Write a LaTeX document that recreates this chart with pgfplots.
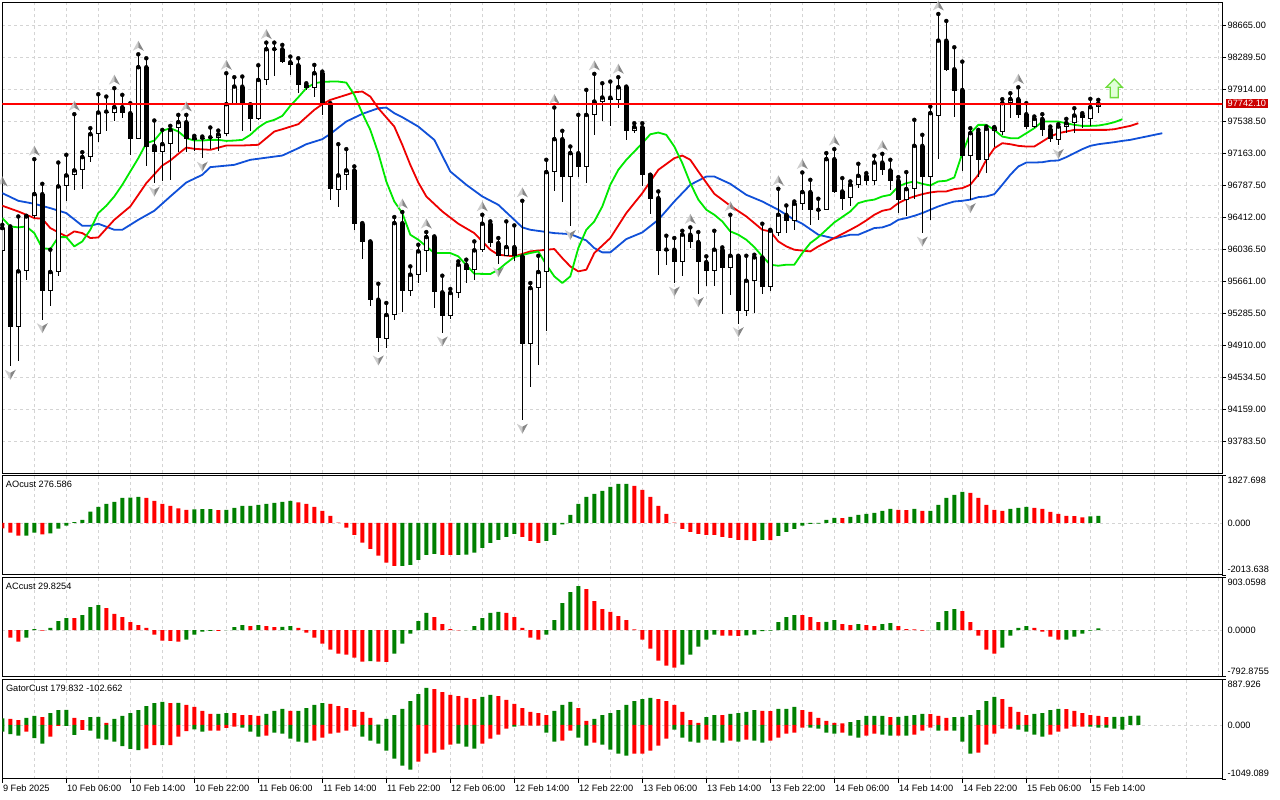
\documentclass[border=0pt]{standalone}
\usepackage{fontspec}
\setmainfont{Liberation Sans}
\usepackage{pgfplots}
\pgfplotsset{compat=1.18}
\usepackage{pgfplotstable}
\definecolor{mtgreen}{RGB}{0,128,0}
\definecolor{mtred}{RGB}{255,0,0}
\definecolor{jawc}{RGB}{16,80,216}
\definecolor{teethc}{RGB}{238,0,0}
\definecolor{lipsc}{RGB}{0,232,0}
\definecolor{gridc}{RGB}{212,212,212}
\definecolor{pricebox}{RGB}{204,0,0}
\definecolor{fracL}{RGB}{205,205,205}
\definecolor{fracD}{RGB}{135,135,135}
\definecolor{buyline}{RGB}{110,220,60}
\definecolor{buyfill}{RGB}{225,255,215}

\pgfdeclareplotmark{fracup}{%
  \pgfpathmoveto{\pgfpoint{0pt}{13.5pt}}\pgfpathlineto{\pgfpoint{-5.5pt}{3.5pt}}\pgfpathlineto{\pgfpoint{0pt}{6.5pt}}\pgfpathclose
  \pgfsetfillcolor{fracL}\pgfusepath{fill}%
  \pgfpathmoveto{\pgfpoint{0pt}{13.5pt}}\pgfpathlineto{\pgfpoint{5.5pt}{3.5pt}}\pgfpathlineto{\pgfpoint{0pt}{6.5pt}}\pgfpathclose
  \pgfsetfillcolor{fracD}\pgfusepath{fill}%
}
\pgfdeclareplotmark{fracdn}{%
  \pgfpathmoveto{\pgfpoint{0pt}{-13.5pt}}\pgfpathlineto{\pgfpoint{-5.5pt}{-3.5pt}}\pgfpathlineto{\pgfpoint{0pt}{-6.5pt}}\pgfpathclose
  \pgfsetfillcolor{fracL}\pgfusepath{fill}%
  \pgfpathmoveto{\pgfpoint{0pt}{-13.5pt}}\pgfpathlineto{\pgfpoint{5.5pt}{-3.5pt}}\pgfpathlineto{\pgfpoint{0pt}{-6.5pt}}\pgfpathclose
  \pgfsetfillcolor{fracD}\pgfusepath{fill}%
}
\pgfdeclareplotmark{buyarrow}{%
  \pgfpathmoveto{\pgfpoint{0pt}{9.3pt}}\pgfpathlineto{\pgfpoint{8pt}{1pt}}\pgfpathlineto{\pgfpoint{4pt}{1pt}}%
  \pgfpathlineto{\pgfpoint{4pt}{-9.3pt}}\pgfpathlineto{\pgfpoint{-4pt}{-9.3pt}}\pgfpathlineto{\pgfpoint{-4pt}{1pt}}%
  \pgfpathlineto{\pgfpoint{-8pt}{1pt}}\pgfpathclose
  \pgfsetfillcolor{buyfill}\pgfsetstrokecolor{buyline}\pgfsetlinewidth{1.3pt}\pgfusepath{fill,stroke}%
}

\pgfplotstableread{
x o h l c
0 96008 96320 95989 96282
2 95117 96418 94719 95774
3 95774 96426 95676 96418
4 96418 97090 96399 96680
6 95539 96028 95364 95766
7 95766 97051 95723 96770
8 96770 97141 96594 96899
9 96899 97618 96731 96958
10 96965 97172 96739 97114
11 97114 97454 97055 97383
12 97383 97852 97297 97637
14 97630 97923 97544 97700
17 97325 98321 97325 98169
20 97180 97434 96829 97266
21 97266 97481 96848 97434
22 97454 97610 97180 97524
27 97337 97426 97188 97380
28 97380 98098 97368 97735
29 97727 98052 97723 97942
32 97563 98192 97552 98020
33 98020 98458 97962 98380
39 97923 98196 97825 98098
42 96731 97266 96528 96899
43 96899 97208 96731 96958
48 94981 95403 94875 95262
49 95262 96411 95207 96340
51 95547 95832 95481 95735
52 95735 96086 95637 96008
53 96008 96235 95762 96176
56 95254 95567 95215 95520
57 95520 95891 95461 95852
59 95786 96125 95676 96020
60 96020 96438 96000 96333
63 95950 96360 95950 96059
66 94922 95637 94418 95578
67 95578 95957 94680 95766
68 95766 97083 95071 96938
69 96938 97696 96712 97325
71 96880 97239 96301 97161
73 96997 97903 96809 97610
74 97610 98091 97376 97766
75 97766 97981 97544 97813
77 97786 98052 97688 97934
79 97426 97512 97395 97466
85 95879 96250 95723 96204
89 95774 96250 95606 96028
91 95813 96438 95500 95957
93 95313 95957 95254 95664
94 95664 95969 95285 95938
96 95586 96262 95539 96250
97 96223 96743 96192 96438
99 96360 96594 96262 96567
100 96567 96934 96489 96704
103 96489 97161 96489 97090
106 96633 96829 96544 96790
107 96782 97036 96751 96895
109 96829 97130 96790 97051
113 96616 96938 96418 96739
114 96739 97552 96622 97247
116 96887 97708 96372 97630
117 97602 98794 97094 98481
121 97133 97454 96616 97395
123 97075 97473 96934 97446
124 97426 97466 97239 97458
125 97415 97794 97376 97747
126 97747 97864 97571 97794
129 97473 97591 97454 97563
132 97317 97501 97251 97473
133 97473 97563 97403 97512
134 97520 97688 97403 97602
136 97563 97798 97481 97700
137 97700 97786 97630 97742.1
}\bull

\pgfplotstableread{
x o h l c
1 96282 96301 94660 95117
5 96680 96801 95207 95539
13 97649 97825 97426 97637
15 97700 97845 97571 97630
16 97630 97747 97141 97325
18 98169 98274 97016 97231
19 97247 97544 96809 97180
23 97524 97610 97180 97325
24 97344 97364 97188 97317
25 97340 97356 97102 97328
26 97347 97462 97212 97335
30 97942 98060 97426 97727
31 97727 97735 97426 97563
34 98382 98458 98067 98370
35 98380 98431 98216 98227
36 98227 98294 98079 98196
37 98192 98274 97864 97962
38 97962 97981 97900 97923
40 98098 98118 97610 97727
41 97727 97747 96616 96739
44 96958 97005 96262 96329
45 96329 96340 95918 96118
46 96118 96125 95371 95442
47 95442 95629 94828 94992
50 96340 96470 95297 95547
54 96176 96184 95344 95528
55 95528 95723 95051 95254
58 95852 95911 95637 95786
61 96333 96360 96059 96106
62 96106 96165 95864 95950
64 96059 96313 95891 95950
65 95950 96602 94027 94922
70 97325 97423 96587 96880
72 97161 97610 96880 96997
76 97813 98001 97481 97786
78 97934 97942 97317 97426
80 97466 97512 96770 96899
81 96907 96907 96450 96626
82 96633 96712 95735 96008
83 96030 96192 95852 96018
84 96028 96165 95637 95879
86 96204 96290 96047 96114
87 96118 96235 95512 95879
88 95883 95950 95606 95774
90 96028 96055 95278 95813
92 95950 95957 95160 95313
95 95938 96333 95512 95586
98 96438 96547 96223 96360
101 96704 96848 96321 96489
102 96497 96626 96379 96485
104 97090 97208 96692 96704
105 96712 96868 96497 96626
108 96895 96926 96790 96829
110 97051 97153 96907 96958
111 96958 97083 96731 96840
112 96840 96880 96458 96616
115 97247 97376 96223 96887
118 98481 98712 98130 98138
119 98145 98403 97583 97895
120 97903 98235 96946 97133
122 97407 97434 96887 97075
127 97794 97934 97571 97610
128 97618 97747 97446 97473
130 97563 97618 97364 97434
131 97442 97473 97297 97325
135 97610 97630 97454 97571
}\bear

\pgfplotsset{
  mtaxis/.style={
    scale only axis, width=1220pt, xmin=0, xmax=152.5,
    axis line style={black, line width=1pt},
    grid=major,
    major grid style={gridc, dash pattern=on 3pt off 3pt, line width=0.8pt},
    minor grid style={gridc, dash pattern=on 3pt off 3pt, line width=0.8pt},
    xtick={0,4,...,152}, xticklabels={}, xtick style={draw=none},
    scaled x ticks=false, scaled y ticks=false,
    clip mode=individual,
    tick label style={font=\fontsize{9.2}{10}\selectfont},
    /pgf/number format/assume math mode=true,
  },
  lowpanel/.style={
    mtaxis, ytick={0}, yticklabels={}, ytick style={draw=none},
  },
  bodyb/.style={only marks, mark=none, error bars/.cd, y dir=minus, y explicit, error mark=none},
}
\newcommand{\lbl}{\fontsize{9.2}{10}\selectfont}

\begin{document}
\begin{tikzpicture}[x=1pt,y=1pt]
\fill[white] (0pt,0pt) rectangle (1280pt,800pt);

% ================= MAIN PRICE PANEL =================
\begin{axis}[mtaxis, at={(2.3pt,326.7pt)}, anchor=south west, height=470.6pt,
  ymin=93404.6, ymax=98926.7,
  ytick={93783.5,94159,94534.5,94910,95285.5,95661,96036.5,96412,96787.5,97163,97538.5,97914,98289.5,98665},
  ytick pos=right, yticklabel pos=right, tick align=outside, major tick length=4pt,
  ytick style={black, line width=0.8pt},
  /pgf/number format/fixed, /pgf/number format/fixed zerofill, /pgf/number format/precision=2, /pgf/number format/1000 sep={},
  yticklabel style={anchor=west, inner sep=0pt, xshift=1pt},
]
\addplot[jawc, line width=1.8pt, line join=round] coordinates {(0,96692)(2,96602)(4,96567)(6,96516)(8,96458)(10,96309)(11,96309)(12,96333)(14,96262)(15,96262)(17,96379)(19,96485)(21,96653)(23,96817)(25,96907)(26,96997)(29,97024)(31,97083)(35,97133)(37,97219)(38,97266)(40,97325)(41,97387)(43,97532)(45,97622)(47,97688)(48,97696)(49,97630)(50,97583)(52,97473)(54,97317)(56,96946)(58,96790)(60,96653)(62,96555)(64,96379)(65,96290)(66,96262)(69,96223)(71,96211)(73,96137)(74,96047)(75,95997)(76,95997)(78,96153)(80,96231)(82,96379)(84,96594)(86,96790)(88,96887)(89,96887)(91,96801)(93,96672)(95,96594)(97,96497)(99,96379)(100,96333)(102,96204)(104,96160)(106,96204)(107,96204)(108,96243)(109,96282)(110,96290)(111,96321)(112,96379)(113,96399)(114,96426)(115,96458)(116,96497)(117,96536)(118,96567)(119,96594)(120,96602)(121,96616)(122,96645)(123,96653)(124,96680)(125,96790)(126,96907)(127,97005)(128,97051)(129,97051)(130,97055)(131,97071)(132,97075)(133,97114)(134,97161)(135,97208)(136,97247)(137,97266)(138,97278)(139,97290)(140,97305)(141,97317)(142,97337)(143,97356)(144,97376)(145,97395)};

\addplot[teethc, line width=1.8pt, line join=round] coordinates {(0,96544)(2,96477)(4,96399)(5,96391)(6,96282)(8,96184)(9,96243)(10,96223)(11,96165)(12,96172)(14,96379)(16,96536)(17,96672)(18,96809)(20,97016)(21,97075)(22,97153)(23,97227)(24,97212)(26,97200)(28,97251)(30,97251)(32,97259)(34,97415)(35,97442)(37,97501)(39,97669)(40,97735)(41,97786)(43,97845)(44,97876)(45,97884)(46,97825)(47,97688)(49,97473)(50,97259)(51,97024)(52,96817)(53,96653)(55,96477)(57,96333)(59,96223)(61,96028)(62,95969)(64,95950)(66,96008)(68,96028)(69,96036)(70,95930)(71,95832)(72,95774)(73,95793)(74,95989)(76,96165)(78,96458)(80,96692)(82,96965)(84,97102)(85,97133)(86,97083)(87,96946)(89,96684)(91,96544)(93,96419)(95,96262)(96,96243)(97,96125)(98,96067)(99,96028)(101,96008)(102,96067)(104,96165)(106,96262)(107,96313)(108,96372)(109,96438)(110,96485)(111,96504)(112,96575)(113,96622)(114,96653)(115,96680)(116,96700)(117,96712)(118,96712)(119,96739)(120,96751)(121,96790)(122,96907)(123,97083)(124,97219)(125,97278)(126,97266)(127,97247)(128,97239)(129,97239)(130,97297)(131,97356)(132,97395)(133,97415)(134,97434)(138,97434)(139,97442)(140,97462)(141,97481)(142,97512)};

\addplot[lipsc, line width=1.8pt, line join=round] coordinates {(0,96399)(1,96301)(2,96290)(3,96301)(4,96223)(5,96047)(6,96036)(7,96176)(8,96176)(9,96067)(10,96125)(11,96262)(12,96458)(13,96544)(14,96653)(15,96790)(16,96946)(17,97102)(18,97278)(19,97309)(20,97423)(21,97454)(22,97415)(23,97337)(24,97309)(25,97309)(26,97317)(27,97317)(28,97305)(29,97309)(30,97317)(31,97376)(32,97462)(33,97524)(34,97552)(35,97598)(36,97716)(37,97817)(38,97923)(39,97981)(40,97997)(41,98001)(42,98001)(43,97989)(44,97845)(45,97630)(46,97434)(47,97161)(48,96829)(49,96594)(50,96458)(51,96204)(52,96145)(54,95989)(56,95989)(57,95950)(59,95746)(61,95743)(62,95793)(63,95871)(64,95942)(66,95989)(67,96008)(68,95852)(69,95715)(70,95637)(71,95715)(72,96047)(73,96262)(74,96360)(75,96536)(76,96790)(77,96965)(78,97083)(79,97180)(80,97278)(81,97383)(82,97403)(83,97376)(84,97239)(85,97044)(86,96809)(87,96616)(88,96497)(89,96438)(90,96360)(91,96243)(92,96204)(93,96145)(94,96059)(95,95950)(96,95852)(97,95840)(98,95852)(99,95852)(100,95989)(101,96106)(102,96176)(103,96262)(104,96348)(106,96477)(107,96575)(108,96602)(109,96616)(110,96653)(111,96672)(112,96770)(113,96809)(114,96829)(115,96801)(116,96782)(117,96829)(118,96837)(119,96876)(120,97161)(121,97395)(122,97493)(123,97493)(124,97434)(125,97356)(126,97337)(127,97337)(128,97395)(129,97454)(130,97532)(131,97532)(132,97532)(133,97512)(134,97493)(135,97481)(136,97481)(137,97485)(138,97501)(139,97524)(140,97559)};

\addplot[bodyb, error bar style={black, line width=1pt}] table[x=x, y=h, y error minus expr=\thisrow{h}-\thisrow{l}] {\bull};
\addplot[bodyb, error bar style={black, line width=1pt}] table[x=x, y=h, y error minus expr=\thisrow{h}-\thisrow{l}] {\bear};
\addplot[bodyb, error bar style={black, line width=5pt}] table[x=x, y=c, y error minus expr=\thisrow{c}-\thisrow{o}] {\bull};
\addplot[bodyb, error bar style={white, line width=3pt, shorten <=1pt, shorten >=1pt}] table[x=x, y=c, y error minus expr=\thisrow{c}-\thisrow{o}] {\bull};
\addplot[bodyb, error bar style={black, line width=5pt}] table[x=x, y=o, y error minus expr=\thisrow{o}-\thisrow{c}] {\bear};

% current price 97742.10: a red band about 1.5 px tall
\addplot[fill=mtred, draw=mtred, line width=0.3pt, forget plot] coordinates {(0,97733)(152.5,97733)(152.5,97751)(0,97751)} -- cycle;

\addplot[only marks, mark=fracup] coordinates {(0,96729)(4,97090)(9,97618)(14,97923)(17,98321)(23,97610)(28,98098)(33,98458)(50,96470)(53,96235)(60,96438)(65,96602)(69,97696)(74,98091)(77,98052)(86,96290)(91,96438)(97,96743)(100,96934)(104,97208)(110,97153)(117,98794)(127,97934)};
\addplot[only marks, mark=fracdn] coordinates {(1,94660)(5,95207)(19,96809)(25,97102)(47,94828)(55,95051)(62,95864)(65,94027)(71,96301)(84,95637)(87,95512)(92,95160)(115,96223)(121,96616)(132,97251)};
\addplot[only marks, mark=buyarrow] coordinates {(139,97922)};

\node[anchor=west, fill=pricebox, text=white, inner xsep=2.2pt, inner ysep=1.6pt, font=\lbl, xshift=3pt] at (axis cs:152.5,97742.1) {97742.10};
\end{axis}

% ================= AO PANEL =================
\begin{axis}[lowpanel, at={(2.3pt,225pt)}, anchor=south west, height=99.3pt,
  ymin=-2013.638, ymax=1827.698]
\addplot[ybar, bar width=4pt, bar shift=0pt, fill=mtgreen, draw=none] coordinates {(3,-490)(4,-374)(6,-400)(7,-219)(8,-103)(9,30)(10,116)(11,439)(12,619)(13,735)(14,813)(15,968)(16,975)(17,1006)(24,525)(25,530)(26,535)(28,505)(29,581)(30,658)(31,660)(32,697)(33,735)(34,774)(35,813)(36,851)(50,-1660)(51,-1625)(52,-1432)(53,-1238)(54,-1200)(57,-1235)(58,-1230)(59,-1148)(60,-968)(61,-774)(62,-658)(63,-542)(64,-426)(68,-697)(69,-464)(70,-52)(71,310)(72,735)(73,1006)(74,1122)(75,1238)(76,1393)(77,1509)(78,1510)(95,-658)(97,-503)(98,-348)(99,-232)(100,-103)(101,-39)(102,-26)(103,116)(104,194)(106,232)(107,310)(108,348)(109,387)(110,464)(111,542)(114,542)(116,466)(117,697)(118,968)(119,1084)(120,1200)(126,542)(127,581)(128,619)(136,250)(137,277)};
\addplot[ybar, bar width=4pt, bar shift=0pt, fill=mtred, draw=none] coordinates {(0,-206)(1,-374)(2,-490)(5,-439)(18,968)(19,851)(20,735)(21,658)(22,568)(23,503)(27,500)(37,800)(38,735)(39,619)(40,464)(41,271)(42,15)(43,-181)(44,-464)(45,-761)(46,-1006)(47,-1264)(48,-1535)(49,-1664)(55,-1238)(56,-1240)(65,-542)(66,-697)(67,-774)(79,1432)(80,1277)(81,1006)(82,658)(83,348)(84,13)(85,-232)(86,-348)(87,-426)(88,-464)(89,-465)(90,-542)(91,-581)(92,-658)(93,-660)(94,-697)(96,-660)(105,190)(112,503)(113,500)(115,464)(121,1161)(122,968)(123,697)(124,503)(125,464)(129,581)(130,542)(131,426)(132,348)(133,271)(134,260)(135,220)};
\node[anchor=west, font=\lbl, inner sep=0pt] at (rel axis cs:0,1) [xshift=3.5pt, yshift=-9pt] {AOcust 276.586};
\node[anchor=west, font=\lbl, inner sep=0pt] at (rel axis cs:1,1) [xshift=5pt, yshift=-5pt] {1827.698};
\node[anchor=west, font=\lbl, inner sep=0pt] at (axis cs:152.5,0) [xshift=5pt] {0.000};
\node[anchor=west, font=\lbl, inner sep=0pt] at (rel axis cs:1,0) [xshift=5pt, yshift=5.5pt] {-2013.638};
\draw[black, line width=0.8pt] (rel axis cs:1,1) -- ++(4pt,0pt);
\draw[black, line width=0.8pt] (rel axis cs:1,0) -- ++(4pt,0pt);
\end{axis}

% ================= AC PANEL =================
\begin{axis}[lowpanel, at={(2.3pt,123.3pt)}, anchor=south west, height=99.4pt,
  ymin=-792.8755, ymax=903.0598]
\addplot[ybar, bar width=4pt, bar shift=0pt, fill=mtgreen, draw=none] coordinates {(3,-127)(4,20)(6,38)(7,157)(8,208)(10,259)(11,396)(12,430)(23,-162)(24,-76)(25,-25)(26,-10)(28,3)(29,55)(30,89)(32,89)(35,56)(36,72)(46,-526)(49,-400)(50,-230)(51,-59)(52,157)(53,294)(58,2)(59,72)(60,208)(61,294)(62,311)(68,-76)(69,174)(70,464)(71,652)(72,754)(85,-588)(86,-418)(87,-281)(88,-162)(89,-76)(93,-88)(94,-76)(95,-14)(96,-8)(97,140)(98,225)(99,259)(103,141)(104,174)(107,106)(110,106)(111,123)(116,3)(117,140)(118,328)(119,362)(125,-298)(126,-93)(127,38)(128,72)(133,-160)(134,-110)(135,-59)(136,-8)(137,29.8)};
\addplot[ybar, bar width=4pt, bar shift=0pt, fill=mtred, draw=none] coordinates {(1,-127)(2,-196)(5,-8)(9,205)(13,379)(14,277)(15,225)(16,140)(17,89)(18,38)(19,-76)(20,-179)(21,-180)(22,-196)(27,-12)(31,72)(33,72)(34,55)(37,38)(38,-42)(39,-127)(40,-230)(41,-332)(42,-400)(43,-418)(44,-469)(45,-537)(47,-537)(48,-540)(54,225)(55,106)(56,20)(57,-2)(63,294)(64,225)(65,38)(66,-127)(67,-162)(73,703)(74,498)(75,362)(76,311)(77,242)(78,174)(79,15)(80,-162)(81,-315)(82,-520)(83,-605)(84,-640)(90,-93)(91,-94)(92,-95)(100,258)(101,225)(102,140)(105,106)(106,89)(108,89)(109,72)(112,72)(113,20)(114,15)(115,-8)(120,328)(121,140)(122,-93)(123,-332)(124,-400)(129,38)(130,-25)(131,-110)(132,-162)};
\node[anchor=west, font=\lbl, inner sep=0pt] at (rel axis cs:0,1) [xshift=3.5pt, yshift=-9pt] {ACcust 29.8254};
\node[anchor=west, font=\lbl, inner sep=0pt] at (rel axis cs:1,1) [xshift=5pt, yshift=-5pt] {903.0598};
\node[anchor=west, font=\lbl, inner sep=0pt] at (axis cs:152.5,0) [xshift=5pt] {0.0000};
\node[anchor=west, font=\lbl, inner sep=0pt] at (rel axis cs:1,0) [xshift=5pt, yshift=5.5pt] {-792.8755};
\draw[black, line width=0.8pt] (rel axis cs:1,1) -- ++(4pt,0pt);
\draw[black, line width=0.8pt] (rel axis cs:1,0) -- ++(4pt,0pt);
\end{axis}

% ================= GATOR PANEL =================
\begin{axis}[lowpanel, at={(2.3pt,21pt)}, anchor=south west, height=99.7pt,
  ymin=-1049.089, ymax=887.926,
  grid=both,
  xtick={0,8,...,136}, minor xtick={4,12,...,148},
  xticklabels={9 Feb 2025,10 Feb 06:00,10 Feb 14:00,10 Feb 22:00,11 Feb 06:00,11 Feb 14:00,11 Feb 22:00,12 Feb 06:00,12 Feb 14:00,12 Feb 22:00,13 Feb 06:00,13 Feb 14:00,13 Feb 22:00,14 Feb 06:00,14 Feb 14:00,14 Feb 22:00,15 Feb 06:00,15 Feb 14:00},
  xtick pos=bottom, tick align=outside, major tick length=4pt, minor tick length=0pt,
  xtick style={draw=black, line width=0.8pt},
  xticklabel style={anchor=north west, inner sep=0pt, xshift=0.5pt, yshift=-2pt},
]
\addplot[ybar, bar width=4pt, bar shift=0pt, fill=mtgreen, draw=none] coordinates {(0,130)(3,136)(4,175)(6,233)(7,291)(8,292)(11,155)(12,156)(14,117)(15,175)(16,233)(17,291)(18,369)(19,427)(20,447)(22,428)(27,215)(28,233)(33,214)(34,272)(35,311)(37,273)(38,330)(39,389)(40,427)(47,5)(48,117)(49,194)(50,311)(51,466)(52,602)(53,719)(60,544)(61,583)(69,272)(70,389)(71,447)(74,117)(75,194)(76,233)(77,291)(78,389)(79,466)(80,505)(81,525)(88,155)(89,194)(91,214)(92,233)(93,253)(94,291)(97,311)(98,312)(99,350)(106,58)(107,97)(108,175)(109,176)(110,177)(112,156)(113,175)(114,194)(115,214)(119,155)(120,156)(121,194)(122,291)(123,466)(124,544)(129,214)(130,233)(131,291)(132,311)(139,156)(140,157)(141,175)(142,180)};
\addplot[ybar, bar width=4pt, bar shift=0pt, fill=mtred, draw=none] coordinates {(1,117)(2,97)(5,155)(9,136)(10,97)(13,39)(21,427)(23,389)(24,350)(25,272)(26,214)(29,232)(30,194)(31,193)(32,175)(36,272)(41,408)(42,369)(43,330)(44,291)(45,253)(46,136)(54,699)(55,641)(56,583)(57,563)(58,525)(59,505)(62,563)(63,486)(64,408)(65,330)(66,253)(67,233)(68,194)(72,330)(73,78)(82,505)(83,466)(84,389)(85,253)(86,97)(87,39)(90,193)(95,272)(96,271)(100,291)(101,253)(102,136)(103,78)(104,40)(105,32)(111,155)(116,213)(117,175)(118,136)(125,505)(126,350)(127,253)(128,194)(133,310)(134,272)(135,233)(136,194)(137,175)(138,155)};
\addplot[ybar, bar width=4pt, bar shift=0pt, fill=mtgreen, draw=none] coordinates {(0,-130)(1,-175)(2,-207)(4,-253)(5,-363)(8,-19)(9,-194)(11,-110)(12,-266)(13,-285)(14,-324)(15,-408)(16,-466)(17,-486)(20,-389)(24,-84)(25,-130)(30,-52)(31,-130)(32,-227)(34,-149)(35,-168)(36,-266)(37,-324)(38,-343)(45,-227)(46,-304)(47,-363)(48,-499)(49,-654)(50,-790)(51,-868)(57,-363)(58,-421)(59,-460)(64,-32)(68,-149)(69,-324)(72,-246)(73,-402)(75,-382)(76,-479)(77,-557)(78,-596)(84,-91)(85,-246)(86,-324)(87,-343)(89,-304)(90,-343)(92,-324)(94,-304)(95,-343)(101,-52)(102,-71)(103,-149)(104,-168)(106,-207)(107,-246)(110,-188)(111,-207)(113,-207)(117,-110)(119,-110)(120,-324)(121,-557)(127,-91)(128,-130)(129,-188)(130,-227)(136,-32)(137,-52)(138,-52)(139,-71)(140,-91)};
\addplot[ybar, bar width=4pt, bar shift=0pt, fill=mtred, draw=none] coordinates {(3,-130)(6,-227)(7,-19)(10,-97)(18,-460)(19,-389)(21,-389)(22,-227)(23,-117)(26,-110)(27,-110)(28,-58)(29,-32)(33,-207)(39,-304)(40,-246)(41,-168)(42,-149)(43,-110)(44,-32)(52,-712)(53,-557)(54,-538)(55,-479)(56,-382)(60,-363)(61,-266)(62,-188)(63,-71)(65,-13)(66,-13)(67,-13)(70,-304)(71,-110)(74,-343)(79,-557)(80,-557)(81,-499)(82,-402)(83,-266)(88,-285)(91,-304)(93,-285)(96,-304)(97,-246)(98,-168)(99,-149)(100,-52)(105,-149)(108,-207)(109,-168)(112,-207)(114,-188)(115,-110)(116,-52)(118,-110)(122,-538)(123,-382)(124,-168)(125,-71)(126,-71)(131,-188)(132,-130)(133,-71)(134,-32)(135,-32)};
\node[anchor=west, font=\lbl, inner sep=0pt] at (rel axis cs:0,1) [xshift=3.5pt, yshift=-9pt] {GatorCust 179.832 -102.662};
\node[anchor=west, font=\lbl, inner sep=0pt] at (rel axis cs:1,1) [xshift=5pt, yshift=-5pt] {887.926};
\node[anchor=west, font=\lbl, inner sep=0pt] at (axis cs:152.5,0) [xshift=5pt] {0.000};
\node[anchor=west, font=\lbl, inner sep=0pt] at (rel axis cs:1,0) [xshift=5pt, yshift=5.5pt] {-1049.089};
\draw[black, line width=0.8pt] (rel axis cs:1,1) -- ++(4pt,0pt);
\draw[black, line width=0.8pt] (rel axis cs:1,0) -- ++(4pt,0pt);
\end{axis}
\pgfresetboundingbox
\path[use as bounding box] (0pt,0pt) rectangle (1280pt,800pt);
\end{tikzpicture}
\end{document}
